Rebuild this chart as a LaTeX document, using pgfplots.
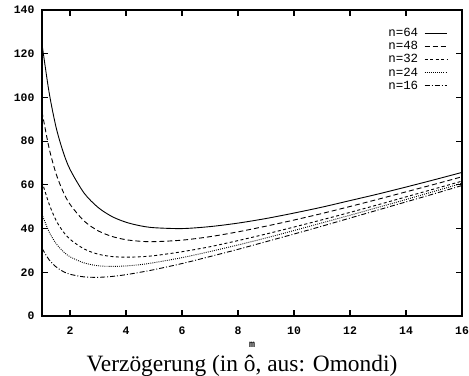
\documentclass[border=0pt]{standalone}
\usepackage{pgfplots}
\pgfplotsset{compat=1.18}
\usepackage{fontspec}
\setmainfont{Liberation Serif}
\setmonofont{Liberation Mono}

\pgfplotstableread{
m     n64    n48    n32    n24    n16
1     124.5  93.5   61.5   46.5   31.0
1.25  102.6  77.0   51.4   38.6   25.8
1.5   86.5   65.2   43.8   33.2   22.5
1.75  75.3   57.0   38.7   29.6   20.4
2     67.1   51.1   35.1   27.1   19.1
2.5   56.3   43.5   30.7   24.3   17.9
3     49.7   39.0   28.3   23.0   17.7
3.5   45.5   36.4   27.2   22.7   18.1
4     42.9   34.9   26.9   22.9   18.9
4.5   41.3   34.2   27.1   23.5   20.0
5     40.4   34.0   27.6   24.4   21.2
6     40.0   34.7   29.4   26.7   24.0
7     40.9   36.3   31.7   29.5   27.2
8     42.5   38.5   34.5   32.5   30.5
9     44.6   41.1   37.5   35.7   34.0
10    47.1   43.9   40.7   39.1   37.5
11    49.8   46.9   44.0   42.6   41.1
12    52.8   50.1   47.4   46.1   44.8
13    55.8   53.4   50.9   49.7   48.5
14    59.0   56.8   54.5   53.3   52.2
15    62.3   60.2   58.1   57.0   55.9
16    65.7   63.7   61.7   60.7   59.7
}\delaydata

\begin{document}
\begin{tikzpicture}
\useasboundingbox (-42bp,-60bp) rectangle (427bp,316bp);
\begin{axis}[
  scale only axis,
  width=420bp, height=306bp,
  xmin=1, xmax=16, ymin=0, ymax=140,
  xtick={2,4,...,16}, ytick={0,20,...,140},
  tick align=inside,
  major tick length=6bp,
  axis line style={line width=1.3pt},
  tick style={line width=1.1pt, black},
  /pgf/number format/assume math mode=true,
  ticklabel style={font=\ttfamily\bfseries\fontsize{11.5}{12}\selectfont},
  xticklabel style={yshift=-7bp},
  yticklabel style={xshift=-4bp},
  xlabel={m},
  xlabel style={font=\ttfamily\bfseries\fontsize{10}{10}\selectfont, yshift=-1bp},
  legend plot pos=right,
  legend cell align=right,
  legend style={at={(0.965,0.948)}, anchor=north east, draw=none, fill=none,
    font=\ttfamily\fontsize{12.5}{13}\selectfont, row sep=-0.6bp, column sep=4bp, inner sep=0pt},
  legend image code/.code={\draw[#1] (0bp,0bp) -- (22bp,0bp);},
  every axis plot/.append style={black, line width=0.9pt, smooth},
]
\addplot[solid, no marks] table[x=m,y=n64] {\delaydata};
\addlegendentry{n=64}
\addplot[no marks, dash pattern=on 5pt off 3pt] table[x=m,y=n48] {\delaydata};
\addlegendentry{n=48}
\addplot[no marks, dash pattern=on 3pt off 2.5pt] table[x=m,y=n32] {\delaydata};
\addlegendentry{n=32}
\addplot[no marks, dash pattern=on 0.9pt off 1.2pt] table[x=m,y=n24] {\delaydata};
\addlegendentry{n=24}
\addplot[no marks, dash pattern=on 5pt off 2pt on 1pt off 2pt] table[x=m,y=n16] {\delaydata};
\addlegendentry{n=16}
\end{axis}
\node[anchor=base, font=\fontsize{23.5}{26}\selectfont] at (200bp,-55bp) {Verzögerung (in ô, aus: Omondi)};
\end{tikzpicture}
\end{document}
